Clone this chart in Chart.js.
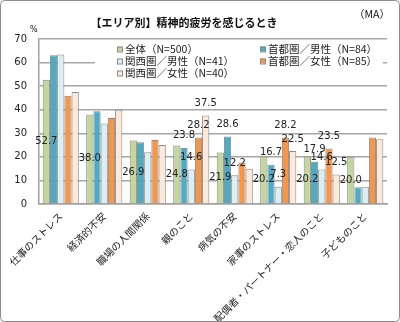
<!DOCTYPE html>
<html lang="ja">
<head>
<meta charset="utf-8">
<title>精神的疲労を感じるとき</title>
<script src="https://cdn.jsdelivr.net/npm/chart.js@4/dist/chart.umd.min.js"></script>
<style>
  html, body { margin: 0; padding: 0; background: #fff; }
  #wrap { width: 400px; height: 322px; }
</style>
</head>
<body>
<div id="wrap"><canvas id="fatigue" width="400" height="322"></canvas></div>
<script>
(function () {
    "use strict";

    var categories = ["仕事のストレス", "経済的不安", "職場の人間関係", "親のこと",
        "病気の不安", "家事のストレス", "配偶者・パートナー・恋人のこと", "子どものこと"];

    var seriesNames = ["全体（N=500）", "首都圏／男性（N=84）", "関西圏／男性（N=41）",
        "首都圏／女性（N=85）", "関西圏／女性（N=40）"];

    var zentai       = [52.7, 38.0, 26.9, 24.8, 21.9, 20.2, 20.2, 20.0];
    var shutoMale    = [63.1, 39.3, 26.2, 23.8, 28.6, 16.7, 17.9, 7.1];
    var kansaiMale   = [63.4, 34.1, 22.0, 14.6, 12.2, 7.3, 14.6, 7.3];
    var shutoFemale  = [45.9, 36.5, 27.1, 28.2, 17.6, 28.2, 23.5, 28.2];
    var kansaiFemale = [47.5, 40.0, 25.0, 37.5, 15.0, 22.5, 12.5, 27.5];

    var yTicks = [0, 10, 20, 30, 40, 50, 60, 70];

    // which bars carry a value label (1 = shown)
    var labelFlags = [
        [1, 1, 1, 1, 1, 1, 1, 1],
        [0, 0, 0, 1, 1, 1, 1, 0],
        [0, 0, 0, 1, 1, 1, 1, 0],
        [0, 0, 0, 1, 0, 1, 1, 0],
        [0, 0, 0, 1, 0, 1, 1, 0]
    ];

    var colors = ["#c3d69b", "#4bacc6", "#dbeef4", "#f79646", "#fde9d9"];
    var values = [zentai, shutoMale, kansaiMale, shutoFemale, kansaiFemale];

    var numFont = "'DejaVu Sans', Verdana, sans-serif";
    var jpFont = "'Noto Sans CJK JP', sans-serif";

    var datasets = values.map(function (v, i) {
        return {
            label: seriesNames[i],
            data: v,
            backgroundColor: colors[i],
            borderColor: "#8a8a8a",
            borderWidth: 1,
            borderSkipped: "bottom"
        };
    });

    var decor = {
        id: "decor",
        beforeDatasetsDraw: function (chart) {
            var ctx = chart.ctx;
            ctx.save();
            // legend panel over the upper gridlines
            ctx.fillStyle = "#fff";
            ctx.fillRect(95, 41, 288, 43);
            var cols = [117, 260];
            var rows = [49.5, 61.5, 73.5];
            ctx.font = "10.5px " + jpFont;
            ctx.textBaseline = "middle";
            ctx.textAlign = "left";
            chart.data.datasets.forEach(function (ds, i) {
                var x = cols[i % 2], y = rows[Math.floor(i / 2)];
                ctx.fillStyle = ds.backgroundColor;
                ctx.fillRect(x, y - 3, 5, 5);
                ctx.strokeStyle = "#8a8a8a";
                ctx.lineWidth = 1;
                ctx.strokeRect(x + 0.5, y - 2.5, 5, 5);
                ctx.fillStyle = "#222";
                ctx.fillText(ds.label, x + 8, y);
            });
            ctx.restore();
        },
        afterDatasetsDraw: function (chart) {
            var ctx = chart.ctx;
            ctx.save();
            ctx.font = "10px " + numFont;
            ctx.fillStyle = "#222";
            ctx.textAlign = "center";
            ctx.textBaseline = "middle";
            chart.data.datasets.forEach(function (ds, i) {
                var meta = chart.getDatasetMeta(i);
                meta.data.forEach(function (bar, j) {
                    if (!labelFlags[i][j]) return;
                    var y = i === 0 ? (bar.y + bar.base) / 2 : bar.y - 12;
                    ctx.fillText(ds.data[j].toFixed(1), bar.x, y);
                });
            });
            ctx.restore();
        },
        afterDraw: function (chart) {
            var ctx = chart.ctx;
            ctx.save();
            ctx.fillStyle = "#111";
            ctx.textBaseline = "middle";
            ctx.textAlign = "center";
            ctx.font = "bold 11px " + jpFont;
            ctx.fillText("【エリア別】精神的疲労を感じるとき", 184, 23);
            ctx.font = "10.5px " + jpFont;
            ctx.textAlign = "right";
            ctx.fillText("（MA）", 390, 14);
            ctx.font = "8px " + numFont;
            ctx.textAlign = "left";
            ctx.fillText("%", 30, 30);
            // outer frame
            ctx.strokeStyle = "#8c8c8c";
            ctx.lineWidth = 1;
            ctx.beginPath();
            ctx.roundRect(0.5, 0.5, 399, 321, 4);
            ctx.stroke();
            ctx.restore();
        }
    };

    new Chart(document.getElementById("fatigue").getContext("2d"), {
        type: "bar",
        data: { labels: categories, datasets: datasets },
        plugins: [decor],
        options: {
            responsive: false,
            animation: false,
            devicePixelRatio: 1,
            layout: { padding: { top: 39, right: 13, bottom: 0, left: 0 } },
            datasets: { bar: { categoryPercentage: 0.83, barPercentage: 1.0 } },
            plugins: {
                legend: { display: false },
                tooltip: { enabled: false }
            },
            scales: {
                x: {
                    grid: { display: false, drawTicks: false },
                    border: { color: "#a0a0a0", width: 1.5 },
                    ticks: {
                        autoSkip: false,
                        minRotation: 45,
                        maxRotation: 45,
                        padding: 6,
                        color: "#222",
                        font: { family: jpFont, size: 10 }
                    },
                    afterFit: function (s) { s.height = 118; }
                },
                y: {
                    min: 0,
                    max: 70,
                    afterBuildTicks: function (s) {
                        s.ticks = yTicks.map(function (v) { return { value: v }; });
                    },
                    grid: { color: "#a6a6a6", lineWidth: 1.5, drawTicks: false },
                    border: { color: "#a0a0a0", width: 1.5 },
                    ticks: {
                        padding: 12,
                        color: "#222",
                        font: { family: numFont, size: 10 }
                    },
                    afterFit: function (s) { s.width = 39; }
                }
            }
        }
    });
})();
</script>
</body>
</html>
